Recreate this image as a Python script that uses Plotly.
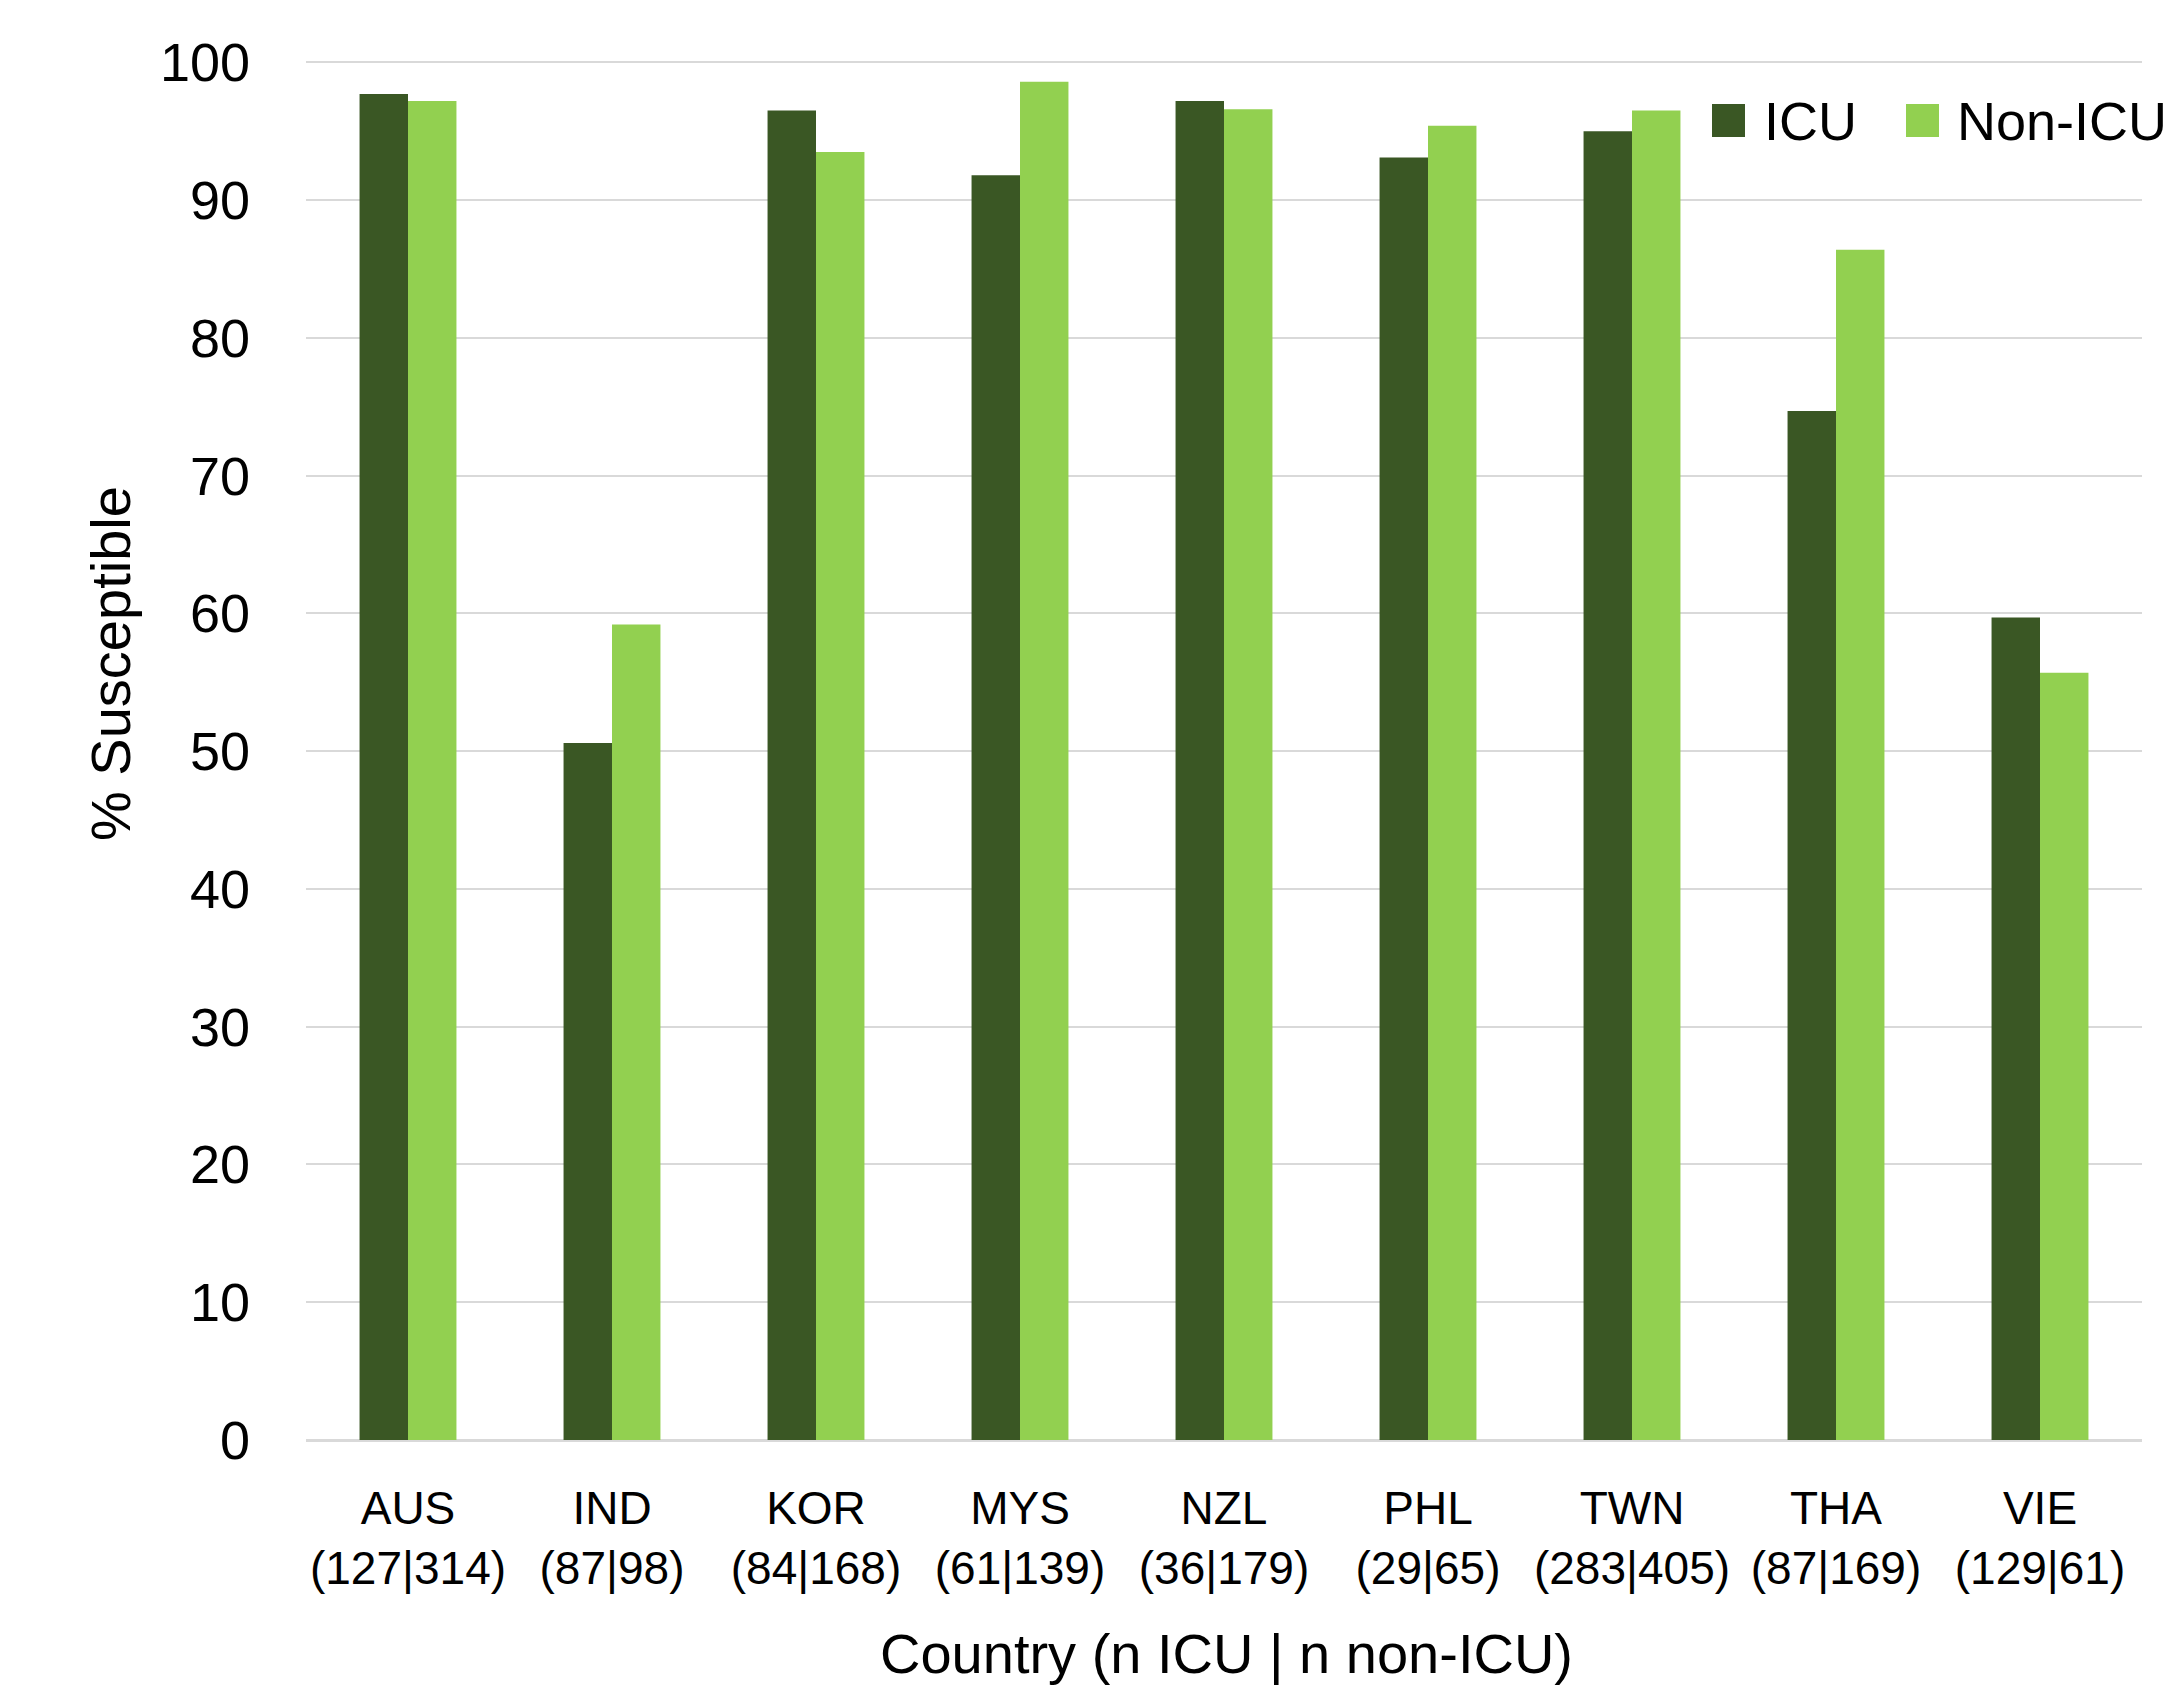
import plotly.graph_objects as go

# Percent susceptible by country, ICU vs non-ICU isolates
countries = ["AUS", "IND", "KOR", "MYS", "NZL", "PHL", "TWN", "THA", "VIE"]
n_icu = [127, 87, 84, 61, 36, 29, 283, 87, 129]
n_non_icu = [314, 98, 168, 139, 179, 65, 405, 169, 61]
icu_pct = [97.7, 50.6, 96.5, 91.8, 97.2, 93.1, 95.0, 74.7, 59.7]
non_icu_pct = [97.2, 59.2, 93.5, 98.6, 96.6, 95.4, 96.5, 86.4, 55.7]
y_ticks = list(range(0, 101, 10))

DARK = "#3A5724"
LIGHT = "#92D050"
GRID = "#D9D9D9"
FONT = "Liberation Sans, Arial, sans-serif"

W, H = 2175, 1686
L, R, T, B = 306, 33, 61, 246
PW, PH = W - L - R, H - T - B
Y_MAX = 100.1

def px_x(x):
    return (x - L) / PW

def px_y(y):
    return (H - B - y) / PH

tick_text = [f"{c}<br>({a}|{b})" for c, a, b in zip(countries, n_icu, n_non_icu)]

fig = go.Figure()
fig.add_trace(go.Bar(x=countries, y=icu_pct, name="ICU",
                     marker=dict(color=DARK, line=dict(width=0)), showlegend=False))
fig.add_trace(go.Bar(x=countries, y=non_icu_pct, name="Non-ICU",
                     marker=dict(color=LIGHT, line=dict(width=0)), showlegend=False))

fig.update_layout(
    width=W, height=H,
    margin=dict(l=L, r=R, t=T, b=B, pad=0),
    paper_bgcolor="white", plot_bgcolor="white",
    barmode="group", bargap=0.525, bargroupgap=0,
    font=dict(family=FONT, color="black"),
)
fig.update_xaxes(
    tickvals=countries, ticktext=tick_text, tickangle=0,
    tickfont=dict(size=46, family=FONT),
    showgrid=False, showline=True, linecolor=GRID, linewidth=2,
    ticks="", ticklabelstandoff=27,
)
fig.update_yaxes(
    range=[0, Y_MAX], tickvals=y_ticks,
    tickfont=dict(size=54, family=FONT),
    showgrid=True, gridcolor=GRID, gridwidth=2,
    zeroline=True, zerolinecolor=GRID, zerolinewidth=2,
    showline=False, ticks="", ticklabelstandoff=55,
)

# Axis titles
fig.add_annotation(text="% Susceptible", xref="paper", yref="paper",
                   x=px_x(110), y=px_y(664), textangle=-90, showarrow=False,
                   xanchor="center", yanchor="middle",
                   font=dict(size=56, family=FONT))
fig.add_annotation(text="Country (n ICU | n non-ICU)", xref="paper", yref="paper",
                   x=px_x(1226), y=px_y(1620), showarrow=False,
                   xanchor="center", yanchor="top",
                   font=dict(size=56, family=FONT))

# Legend drawn as squares plus labels
legend_items = [("ICU", DARK, 1712, 1762), ("Non-ICU", LIGHT, 1906, 1955)]
for label, color, sx, tx in legend_items:
    fig.add_shape(type="rect", xref="paper", yref="paper",
                  x0=px_x(sx), x1=px_x(sx + 33), y0=px_y(137), y1=px_y(104),
                  fillcolor=color, line=dict(width=0))
    fig.add_annotation(text=label, xref="paper", yref="paper",
                       x=px_x(tx), y=px_y(121), showarrow=False,
                       xanchor="left", yanchor="middle",
                       font=dict(size=54, family=FONT))

fig.write_html("out.html")
